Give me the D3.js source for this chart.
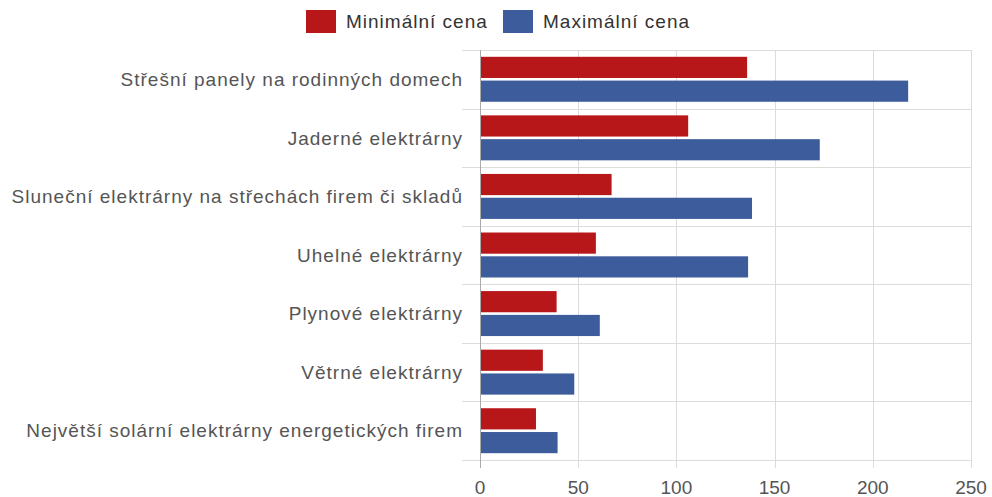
<!DOCTYPE html>
<html lang="cs">
<head>
    <meta charset="utf-8">
    <script src="https://cdn.jsdelivr.net/npm/d3@7"></script>
    <style>
        html, body {
            margin: 0;
            padding: 0;
            background: white;
        }

        svg {
            display: block;
            font-family: Arial, 'Liberation Sans', sans-serif;
        }

        .label {
            fill: #555;
            font-size: 19px;
            letter-spacing: 1px;
        }

        .tick-label {
            fill: #555;
            font-size: 19px;
        }

        .legend text {
            fill: #333;
            font-size: 19px;
            letter-spacing: 1px;
        }
    </style>
</head>
<body>
<svg width="992" height="497"></svg>
<script>
    // data
    var categories = [
        "Střešní panely na rodinných domech",
        "Jaderné elektrárny",
        "Sluneční elektrárny na střechách firem či skladů",
        "Uhelné elektrárny",
        "Plynové elektrárny",
        "Větrné elektrárny",
        "Největší solární elektrárny energetických firem"
    ];
    var seriesNames = ["Minimální cena", "Maximální cena"];
    var minValues = [136, 106, 67, 59, 39, 32, 28.5];
    var maxValues = [218, 173, 138.5, 136.5, 61, 48, 39.5];
    var xTicks = [0, 50, 100, 150, 200, 250];
    var colors = ["#b8171a", "#3d5c9c"];

    var svg = d3.select("svg");

    var plotLeft = 480, plotRight = 971, plotTop = 50, plotBottom = 460;

    var x = d3.scaleLinear()
        .domain([0, 250])
        .range([plotLeft, plotRight]);

    var y = d3.scaleBand()
        .domain(categories)
        .range([plotTop, plotBottom]);

    var pad = 6.8;
    var ySub = d3.scaleBand()
        .domain(seriesNames)
        .range([pad, y.bandwidth() - pad])
        .paddingInner(0.11);

    var rows = categories.map(function (c, i) {
        return {name: c, values: [minValues[i], maxValues[i]]};
    });

    // grid
    var grid = svg.append("g");
    grid.selectAll("line.v")
        .data(xTicks.slice(1))
        .enter().append("line")
        .attr("x1", function (d) { return Math.round(x(d)) + 0.5; })
        .attr("x2", function (d) { return Math.round(x(d)) + 0.5; })
        .attr("y1", plotTop)
        .attr("y2", plotBottom + 8)
        .attr("stroke", "#dcdcdc")
        .attr("stroke-width", 1);

    grid.selectAll("line.h")
        .data(d3.range(categories.length + 1))
        .enter().append("line")
        .attr("x1", plotLeft - 18)
        .attr("x2", plotRight)
        .attr("y1", function (i) { return Math.round(plotTop + i * y.step()) + 0.5; })
        .attr("y2", function (i) { return Math.round(plotTop + i * y.step()) + 0.5; })
        .attr("stroke", "#dcdcdc")
        .attr("stroke-width", 1);

    // bars
    var group = svg.append("g").selectAll("g")
        .data(rows)
        .enter().append("g")
        .attr("transform", function (d) { return "translate(0," + y(d.name) + ")"; });

    group.selectAll("rect")
        .data(function (d) { return d.values; })
        .enter().append("rect")
        .attr("x", x(0))
        .attr("y", function (d, i) { return ySub(seriesNames[i]); })
        .attr("width", function (d) { return x(d) - x(0); })
        .attr("height", ySub.bandwidth())
        .attr("fill", function (d, i) { return colors[i]; });

    // axis line at 0
    svg.append("line")
        .attr("x1", x(0) + 0.5)
        .attr("x2", x(0) + 0.5)
        .attr("y1", plotTop)
        .attr("y2", plotBottom + 8)
        .attr("stroke", "#aaa")
        .attr("stroke-width", 1);

    // category labels
    svg.append("g").selectAll("text")
        .data(categories)
        .enter().append("text")
        .attr("class", "label")
        .attr("x", plotLeft - 17)
        .attr("y", function (d) { return y(d) + y.bandwidth() / 2; })
        .attr("dy", "0.35em")
        .attr("text-anchor", "end")
        .text(function (d) { return d; });

    // tick labels
    svg.append("g").selectAll("text")
        .data(xTicks)
        .enter().append("text")
        .attr("class", "tick-label")
        .attr("x", function (d) { return x(d); })
        .attr("y", 494)
        .attr("text-anchor", "middle")
        .text(function (d) { return d; });

    // legend
    var legend = svg.append("g").attr("class", "legend");
    var lx = [306, 503];
    seriesNames.forEach(function (s, i) {
        var g = legend.append("g").attr("transform", "translate(" + lx[i] + ",10)");
        g.append("rect")
            .attr("width", 30)
            .attr("height", 23)
            .attr("fill", colors[i]);
        g.append("text")
            .attr("x", 40)
            .attr("y", 11.5)
            .attr("dy", "0.35em")
            .text(s);
    });
</script>
</body>
</html>
